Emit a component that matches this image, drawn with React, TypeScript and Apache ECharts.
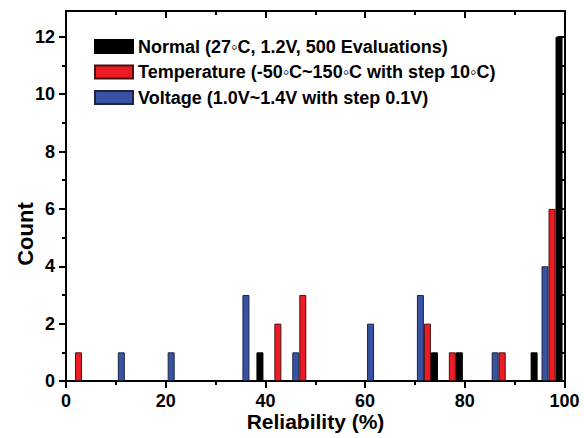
import React, { useEffect, useRef } from "react";
import * as echarts from "echarts";

// Histogram bins (bin centres, %), bin width 5
const binCenters = [2.5, 7.5, 12.5, 17.5, 22.5, 27.5, 32.5, 37.5, 42.5, 47.5, 52.5, 57.5, 62.5, 67.5, 72.5, 77.5, 82.5, 87.5, 92.5, 97.5];
const normalCounts = [0, 0, 0, 0, 0, 0, 0, 1, 0, 0, 0, 0, 0, 0, 1, 1, 0, 0, 1, 12];
const temperatureCounts = [1, 0, 0, 0, 0, 0, 0, 0, 2, 3, 0, 0, 0, 0, 2, 1, 0, 1, 0, 6];
const voltageCounts = [0, 0, 1, 0, 1, 0, 0, 3, 0, 1, 0, 0, 2, 0, 3, 0, 0, 1, 0, 4];

const seriesNames = [
  "Normal (27\u25E6C, 1.2V, 500 Evaluations)",
  "Temperature (-50\u25E6C~150\u25E6C with step 10\u25E6C)",
  "Voltage (1.0V~1.4V with step 0.1V)",
];

const xTicks = [0, 20, 40, 60, 80, 100];
const yMajorTicks = [0, 2, 4, 6, 8, 10, 12];
const yMinorTicks = [1, 3, 5, 7, 9, 11];

const FONT = "'Liberation Sans', Arial, Helvetica, sans-serif";

const toPairs = (counts: number[]) =>
  binCenters.map((c, i) => [c, counts[i]]).filter((p) => p[1] > 0);

export default function App() {
  const ref = useRef<HTMLDivElement>(null);
  useEffect(() => {
    if (!ref.current) return;
    const chart = echarts.init(ref.current, undefined, { renderer: "svg" });
    const axisLineStyle = { color: "#000", width: 2 };
    const tickStyle = { color: "#000", width: 2 };
    const xBase = (pos: "bottom" | "top", inside: boolean, labels: boolean) => ({
      type: "value",
      position: pos,
      min: xTicks[0],
      max: xTicks[xTicks.length - 1],
      interval: 20,
      axisLine: { show: true, onZero: false, lineStyle: axisLineStyle },
      axisTick: { show: true, inside, length: 7, lineStyle: tickStyle },
      minorTick: { show: true, splitNumber: 2, length: 4, lineStyle: tickStyle },
      axisLabel: {
        show: labels,
        margin: 11,
        fontSize: 18,
        fontWeight: "bold",
        color: "#000",
        fontFamily: FONT,
      },
      splitLine: { show: false },
      minorSplitLine: { show: false },
    });
    const yBase = (
      pos: "left" | "right",
      inside: boolean,
      ticks: number[],
      len: number,
      line: boolean,
      labels: boolean
    ) => ({
      type: "value",
      position: pos,
      min: 0,
      max: 12.9,
      interval: 2,
      axisLine: { show: line, onZero: false, lineStyle: axisLineStyle },
      axisTick: { show: true, inside, length: len, customValues: ticks, lineStyle: tickStyle },
      axisLabel: {
        show: labels,
        customValues: yMajorTicks,
        margin: 11,
        fontSize: 18,
        fontWeight: "bold",
        color: "#000",
        fontFamily: FONT,
      },
      splitLine: { show: false },
    });

    const barCommon = {
      type: "bar",
      xAxisIndex: 0,
      yAxisIndex: 0,
      barWidth: 7,
      barGap: "0%",
    };

    chart.setOption({
      animation: false,
      grid: { left: 66, right: 19.5, top: 11, bottom: 57, containLabel: false },
      legend: {
        data: seriesNames,
        orient: "vertical",
        left: 94,
        top: 37.5,
        padding: 0,
        itemGap: 7.5,
        itemWidth: 38,
        itemHeight: 13,
        icon: "rect",
        textStyle: { fontSize: 18, fontWeight: "bold", color: "#000", fontFamily: FONT },
      },
      xAxis: [xBase("bottom", false, true), xBase("top", true, false)],
      yAxis: [
        yBase("left", false, yMajorTicks, 7, true, true),
        yBase("left", false, yMinorTicks, 4, false, false),
        yBase("right", true, yMajorTicks, 7, true, false),
        yBase("right", true, yMinorTicks, 4, false, false),
      ],
      graphic: [
        {
          type: "text",
          x: 315.5,
          y: 421,
          style: {
            text: "Reliability (%)",
            font: `bold 21px ${FONT}`,
            fill: "#000",
            align: "center",
            verticalAlign: "middle",
            textAlign: "center",
            textVerticalAlign: "middle",
          },
        },
        {
          type: "text",
          x: 25,
          y: 234,
          rotation: Math.PI / 2,
          style: {
            text: "Count",
            font: `bold 22px ${FONT}`,
            fill: "#000",
            align: "center",
            verticalAlign: "middle",
            textAlign: "center",
            textVerticalAlign: "middle",
          },
        },
      ],
      series: [
        {
          ...barCommon,
          name: seriesNames[2],
          data: toPairs(voltageCounts),
          itemStyle: { color: "#3953a4", borderColor: "#1c2540", borderWidth: 1 },
        },
        {
          ...barCommon,
          name: seriesNames[1],
          data: toPairs(temperatureCounts),
          itemStyle: { color: "#ed1c24", borderColor: "#4a1010", borderWidth: 1 },
        },
        {
          ...barCommon,
          name: seriesNames[0],
          data: toPairs(normalCounts),
          itemStyle: { color: "#000000", borderColor: "#000000", borderWidth: 1 },
        },
      ],
    });
    return () => chart.dispose();
  }, []);
  return (
    <div
      ref={ref}
      style={{ position: "fixed", left: 0, top: 0, width: 584, height: 438, background: "#fff" }}
    />
  );
}
